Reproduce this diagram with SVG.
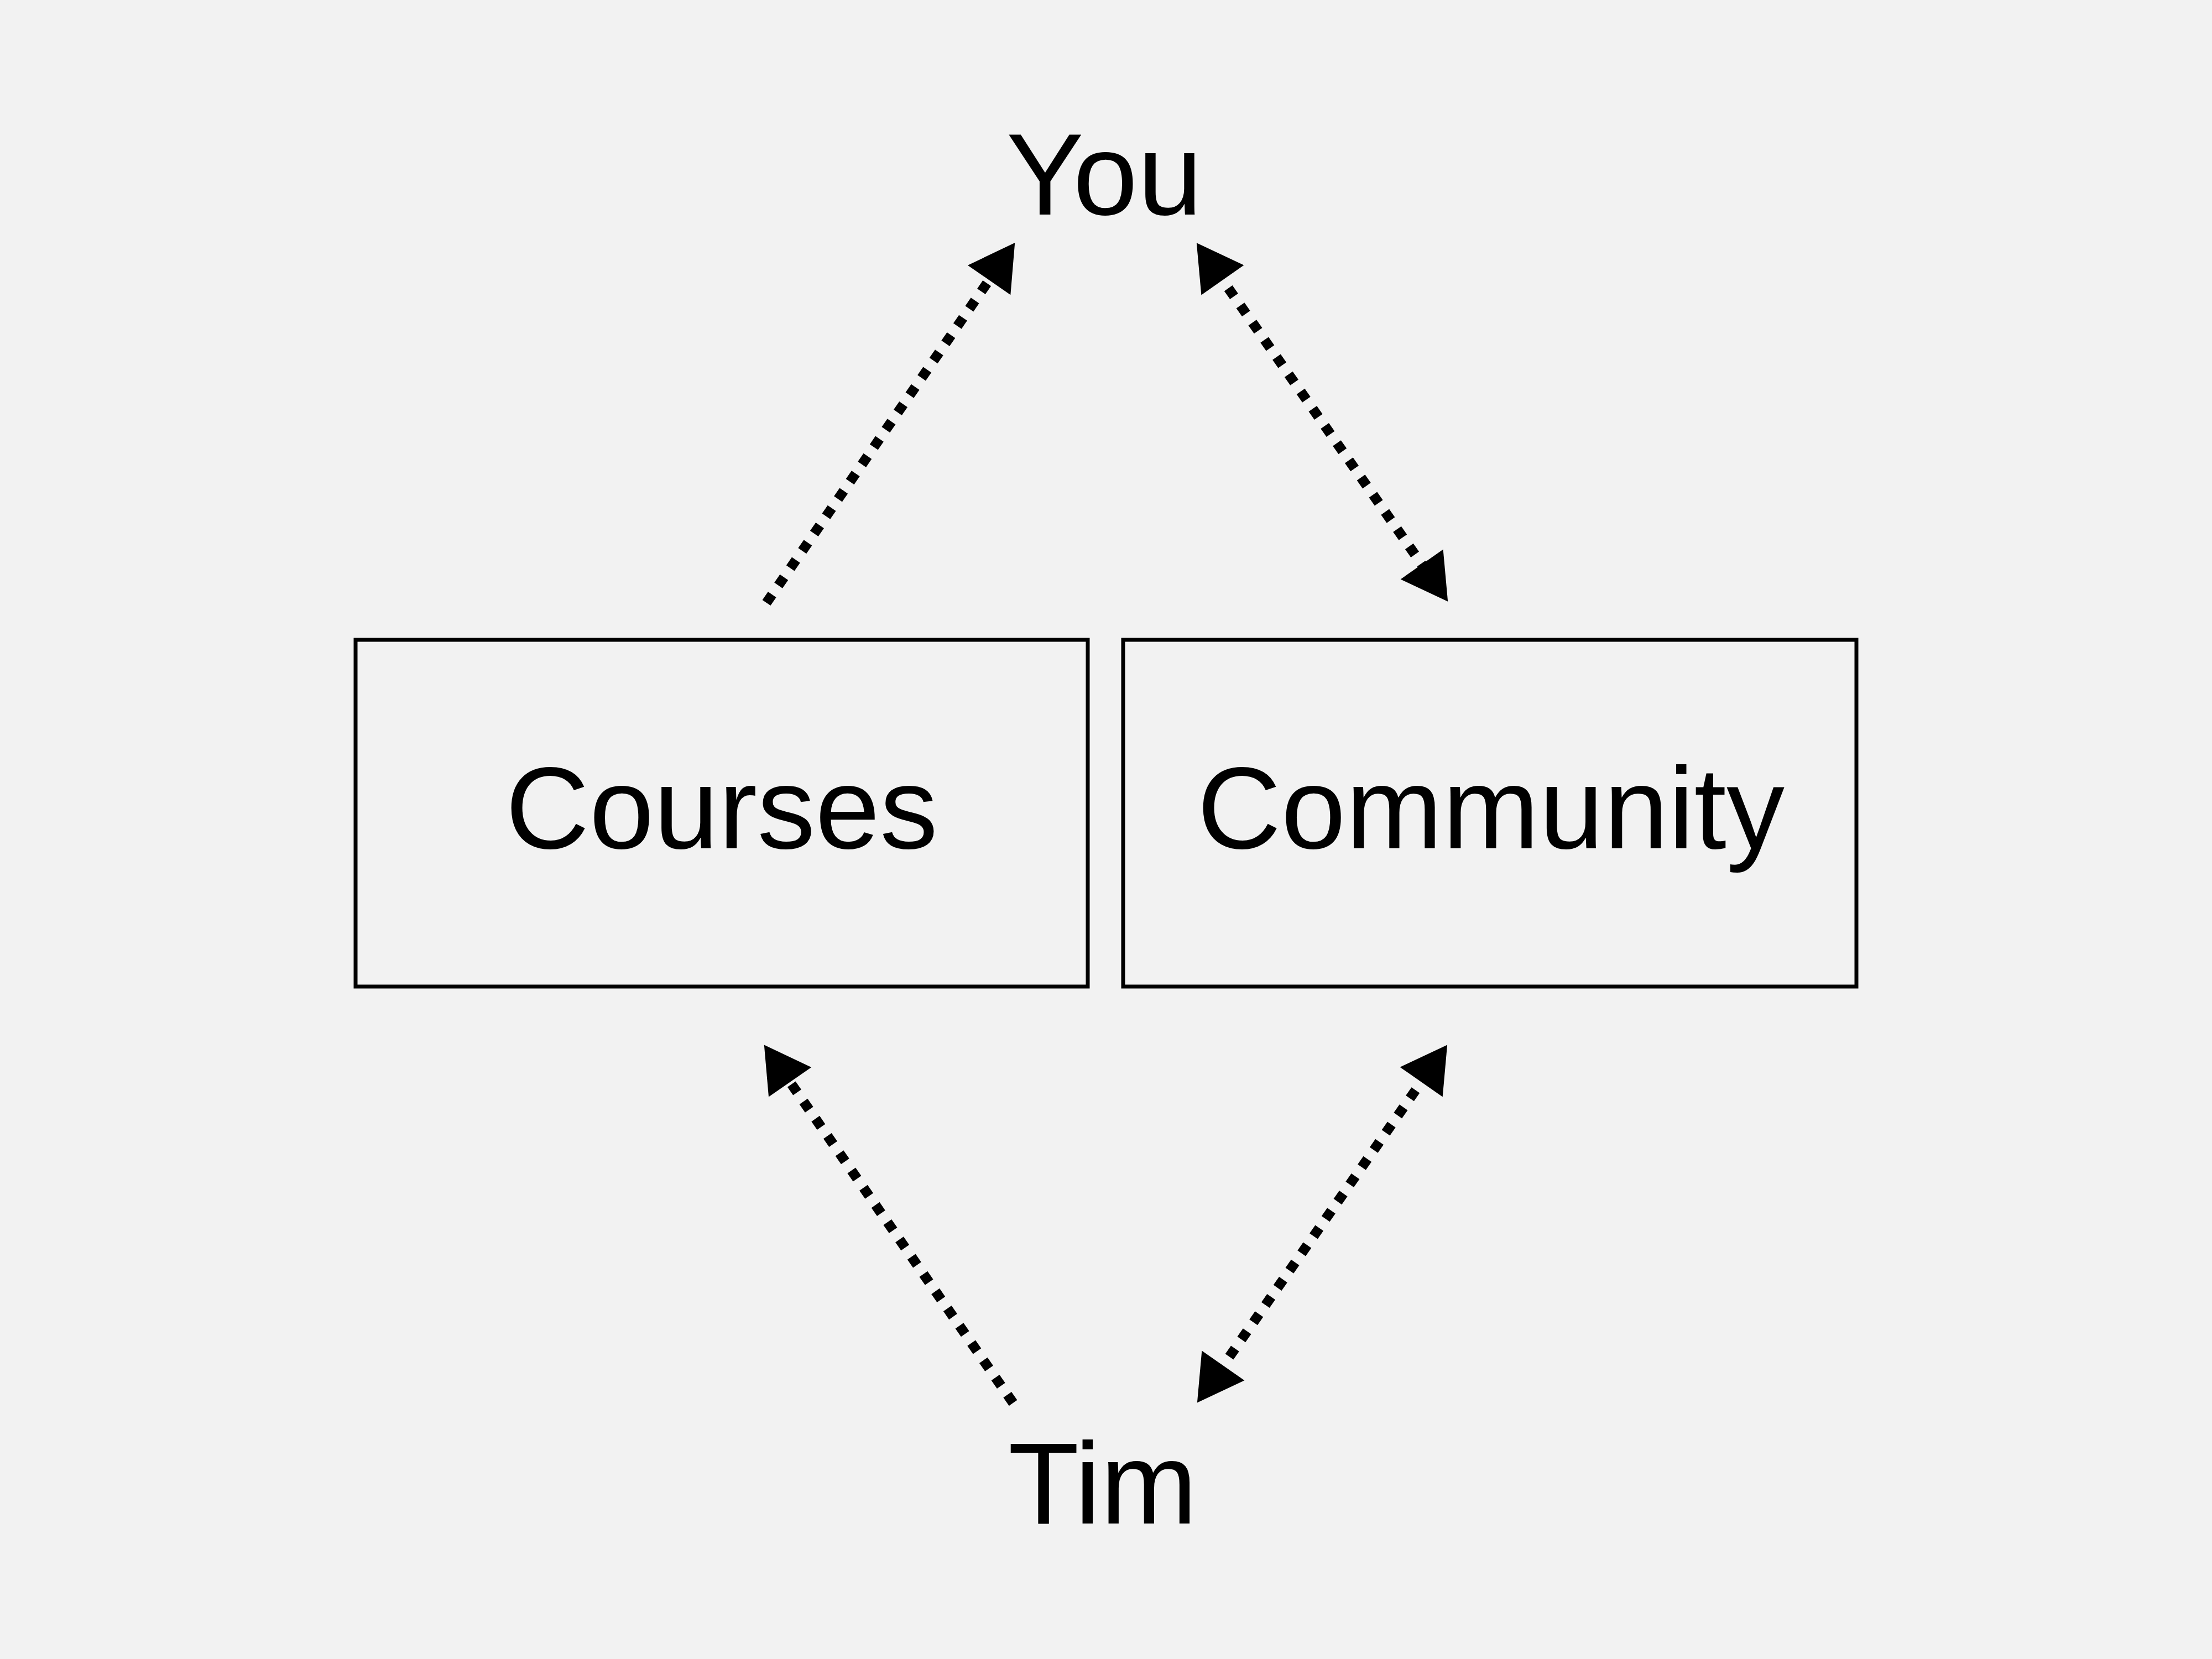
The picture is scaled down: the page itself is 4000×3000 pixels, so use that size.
<svg xmlns="http://www.w3.org/2000/svg" width="4000" height="3000" viewBox="0 0 4000 3000">
<style>
.box{fill:none;stroke:#000;stroke-width:7}
.lbl{font-family:"Liberation Sans",Arial,sans-serif;font-size:210px;fill:#000;text-anchor:middle}
.conn{fill:none;stroke:#000;stroke-width:18;stroke-dasharray:18 20}
</style>
<defs>
<marker id="ah" markerUnits="userSpaceOnUse" viewBox="-2 -49 86 98" refX="20" refY="0" markerWidth="86" markerHeight="98" orient="auto-start-reverse" overflow="visible">
<path d="M0,-47 L82,0 L0,47 z" fill="#000"/>
</marker>
</defs>
<rect width="4000" height="3000" fill="#f2f2f2"/>
<g id="connectors">
<line class="conn" x1="1386" y1="1090" x2="1800" y2="490" marker-end="url(#ah)"/>
<line class="conn" x1="2199.4" y1="490.1" x2="2582.6" y2="1036.9" marker-start="url(#ah)" marker-end="url(#ah)"/>
<line class="conn" x1="1832" y1="2537" x2="1417.2" y2="1940.3" marker-end="url(#ah)"/>
<line class="conn" x1="2581.6" y1="1940.2" x2="2200.4" y2="2485.8" marker-start="url(#ah)" marker-end="url(#ah)"/>
</g>
<g id="you"><text class="lbl" x="1997" y="388">You</text></g>
<g id="courses">
<rect class="box" x="643" y="1157" width="1324" height="627"/>
<text class="lbl" x="1305" y="1534">Courses</text>
</g>
<g id="community">
<rect class="box" x="2031" y="1157" width="1326" height="627"/>
<text class="lbl" x="2696" y="1534">Community</text>
</g>
<g id="tim"><text class="lbl" x="1994" y="2755">Tim</text></g>
</svg>
